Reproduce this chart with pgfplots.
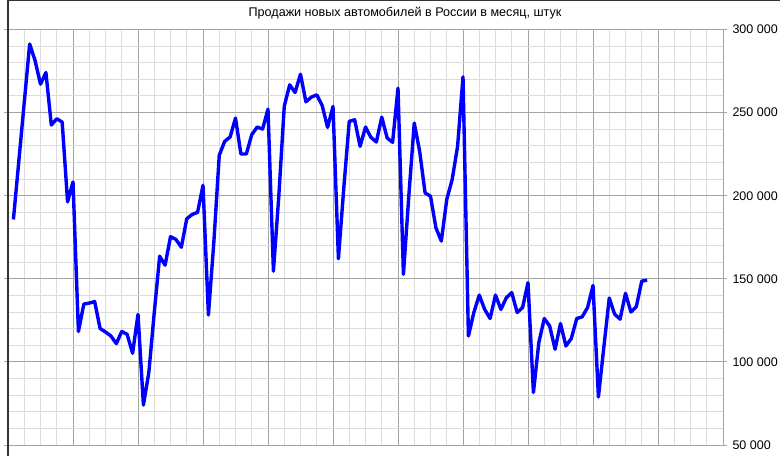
\documentclass[border=0pt]{standalone}
\usepackage{pgfplots}
\pgfplotsset{compat=1.18}
\usepackage{fontspec}
\setmainfont{Liberation Sans}
\definecolor{majgrid}{HTML}{A4A4A4}
\definecolor{mingrid}{HTML}{DCDCDC}
\definecolor{lineblue}{HTML}{0000FF}
\begin{document}
\begin{tikzpicture}
\useasboundingbox (0pt,0pt) rectangle (780pt,456pt);
\begin{axis}[
  at={(8pt,11pt)}, anchor=south west,
  scale only axis, width=715pt, height=415.5pt,
  xmin=0, xmax=132, ymin=50000, ymax=300000,
  xtick={0,12,...,132}, xticklabels={},
  minor x tick num=3,
  scaled y ticks=false,
  ytick={50000,100000,150000,200000,250000,300000},
  yticklabels={50 000,100 000,150 000,200 000,250 000,300 000},
  minor y tick num=4,
  yticklabel pos=right,
  /pgf/number format/assume math mode=true,
  yticklabel style={font=\fontsize{12.5}{14}\selectfont, anchor=west, xshift=2pt},
  grid=both,
  major grid style={majgrid, line width=0.9pt},
  minor grid style={mingrid, line width=1pt},
  axis line style={majgrid, line width=1pt},
  tick style={majgrid, line width=1pt},
  major tick length=4pt, minor tick length=0pt,
  xtick style={draw=none},
  ytick align=outside,
  clip=true,
]
\addplot[lineblue, line width=3.4pt, line join=round, mark=none] coordinates {
(1,185700) (2,220900) (3,256100) (4,291300) (5,281300) (6,267100) (7,274100) (8,242500) (9,246300) (10,244300)
(11,196300) (12,208300) (13,118300) (14,134800) (15,135400) (16,136300) (17,120100) (18,118000) (19,115600) (20,111000)
(21,118300) (22,116600) (23,105200) (24,128600) (25,74000) (26,93700) (27,129600) (28,163600) (29,158200) (30,175300)
(31,173700) (32,169000) (33,186100) (34,188700) (35,190000) (36,206200) (37,128200) (38,172000) (39,224300) (40,232700)
(41,235300) (42,246700) (43,225100) (44,225100) (45,236700) (46,241300) (47,240100) (48,252100) (49,154600) (50,200000)
(51,253700) (52,266700) (53,262100) (54,273100) (55,256500) (56,259300) (57,260700) (58,254300) (59,241100) (60,253700)
(61,162100) (62,205000) (63,244700) (64,245700) (65,229700) (66,241300) (67,235100) (68,232300) (69,247300) (70,234700)
(71,232100) (72,264700) (73,152700) (74,200000) (75,243700) (76,226700) (77,201700) (78,199700) (79,180700) (80,172700)
(81,197700) (82,209700) (83,229700) (84,271500) (85,115600) (86,129700) (87,140200) (88,131600) (89,126100) (90,140200)
(91,131600) (92,138600) (93,141700) (94,129700) (95,132700) (96,147700) (97,81600) (98,111600) (99,126100) (100,121600)
(101,107600) (102,123100) (103,109600) (104,114100) (105,126100) (106,127100) (107,132700) (108,146000) (109,78900) (110,108800)
(111,138400) (112,128700) (113,125700) (114,141300) (115,130000) (116,133300) (117,148600) (118,149200)
};
\end{axis}
\draw[black!80, line width=1.6pt] (8pt,0pt) -- (8pt,456pt);
\draw[black!80, line width=1.6pt] (8pt,455.5pt) -- (780pt,455.5pt);
\node[font=\fontsize{12.6}{14}\selectfont, anchor=center] at (405pt,443pt) {Продажи новых автомобилей в России в месяц, штук};
\end{tikzpicture}
\end{document}
